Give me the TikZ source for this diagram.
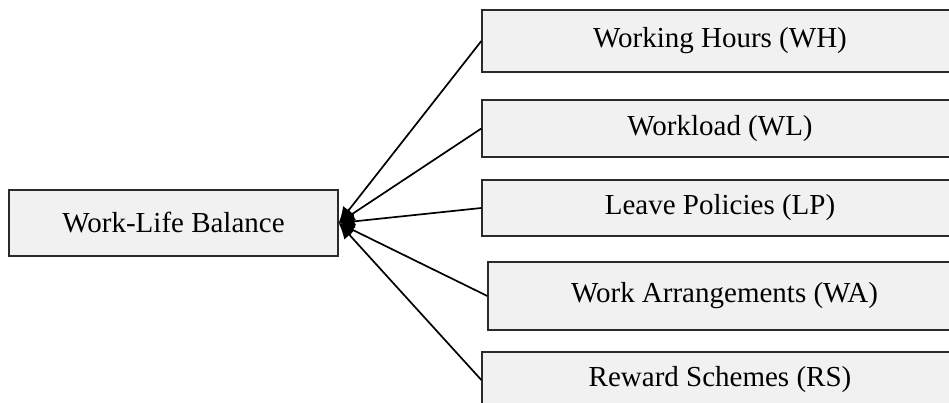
\documentclass[tikz,border=0pt]{standalone}
\usepackage{fontspec}
\setmainfont{Liberation Serif}
\usetikzlibrary{arrows.meta}
\definecolor{boxfill}{HTML}{F1F1F1}
\definecolor{boxline}{HTML}{2A2A2A}
\tikzset{
  box/.style={draw=boxline, line width=1.3pt, fill=boxfill, rectangle, inner sep=0pt,
    font=\fontsize{29}{34}\selectfont, text=black},
  conn/.style={draw=black, line width=1.7pt, -{Latex[length=16pt,width=14pt]}}
}
\begin{document}
\begin{tikzpicture}[x=1pt,y=-1pt]
\clip (0,0) rectangle (949,403);
\fill[white] (0,0) rectangle (949,403);
\node[box, minimum width=329pt, minimum height=66pt] (wlb) at (173.5,223) {Work-Life Balance};
\node[box, minimum width=476pt, minimum height=62pt] (wh) at (720,41) {Working Hours (WH)};
\node[box, minimum width=476pt, minimum height=57pt] (wl) at (720,128.5) {Workload (WL)};
\node[box, minimum width=476pt, minimum height=56pt] (lp) at (720,208) {Leave Policies (LP)};
\node[box, minimum width=473pt, minimum height=68pt] (wa) at (724.5,296) {Work Arrangements (WA)};
\node[box, minimum width=476pt, minimum height=56pt] (rs) at (720,380) {Reward Schemes (RS)};
\draw[conn] (wh.west) -- (wlb.east);
\draw[conn] (wl.west) -- (wlb.east);
\draw[conn] (lp.west) -- (wlb.east);
\draw[conn] (wa.west) -- (wlb.east);
\draw[conn] (rs.west) -- (wlb.east);
\end{tikzpicture}
\end{document}
